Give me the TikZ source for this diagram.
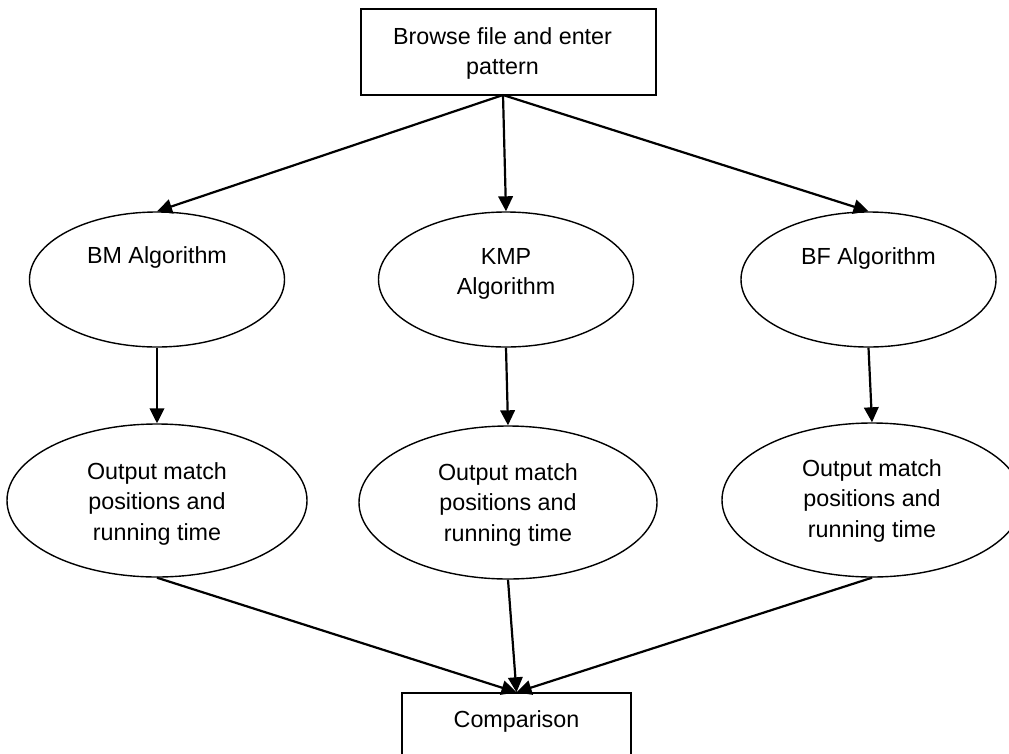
\documentclass[tikz,border=0pt]{standalone}
\usepackage{fontspec}
\setmainfont{Liberation Sans}
\usetikzlibrary{shapes.geometric,arrows.meta}
\newcommand\lbl[3][1]{\raisebox{#2pt}[0pt][0pt]{\renewcommand\arraystretch{#1}\begin{tabular}[t]{@{}c@{}}#3\end{tabular}}}
\begin{document}
\begin{tikzpicture}[x=1pt,y=-1pt,
  font=\fontsize{23.3}{30.5}\selectfont,
  ell/.style={ellipse, draw, line width=1.4pt, inner sep=0pt},
  rbox/.style={rectangle, draw, line width=1.4pt, inner sep=0pt},
  arr/.style={line width=2.2pt, -{Triangle[length=15pt,width=14.5pt]}}]
\useasboundingbox (0,0) rectangle (1009,753);
\clip (0,0) rectangle (1009,753);
\node[rbox, minimum width=295pt, minimum height=86pt] (top) at (508.5,52) {\kern-12pt\lbl{8}{Browse file and enter\\pattern}};
\node[ell, minimum width=255pt, minimum height=135pt] (bm) at (157,279.5) {\lbl{16}{BM Algorithm}};
\node[ell, minimum width=255pt, minimum height=135pt] (kmp) at (506,279.5) {\lbl{15.5}{KMP\\Algorithm}};
\node[ell, minimum width=255pt, minimum height=135pt] (bf) at (868.5,279.5) {\lbl{15.5}{BF Algorithm}};
\node[ell, minimum width=300pt, minimum height=153pt] (bmo) at (157,500.5) {\lbl{21.5}{Output match\\positions and\\running time}};
\node[ell, minimum width=298pt, minimum height=153pt] (kmpo) at (508,502.5) {\lbl{22.5}{Output match\\positions and\\running time}};
\node[ell, minimum width=300pt, minimum height=154pt] (bfo) at (872,500) {\lbl{24}{Output match\\positions and\\running time}};
\node[rbox, minimum width=229pt, minimum height=100pt] (cmp) at (516.5,743) {\lbl{16}{Comparison}};
\coordinate (src) at (503,95);
\draw[arr] (src) -- (bm.north);
\draw[arr] (src) -- (kmp.north);
\draw[arr] (src) -- (bf.north);
\draw[arr] (bm.south) -- (bmo.north);
\draw[arr] (kmp.south) -- (kmpo.north);
\draw[arr] (bf.south) -- (bfo.north);
\draw[arr] (bmo.south) -- (cmp.north);
\draw[arr] (kmpo.south) -- (cmp.north);
\draw[arr] (bfo.south) -- (cmp.north);
\end{tikzpicture}
\end{document}
